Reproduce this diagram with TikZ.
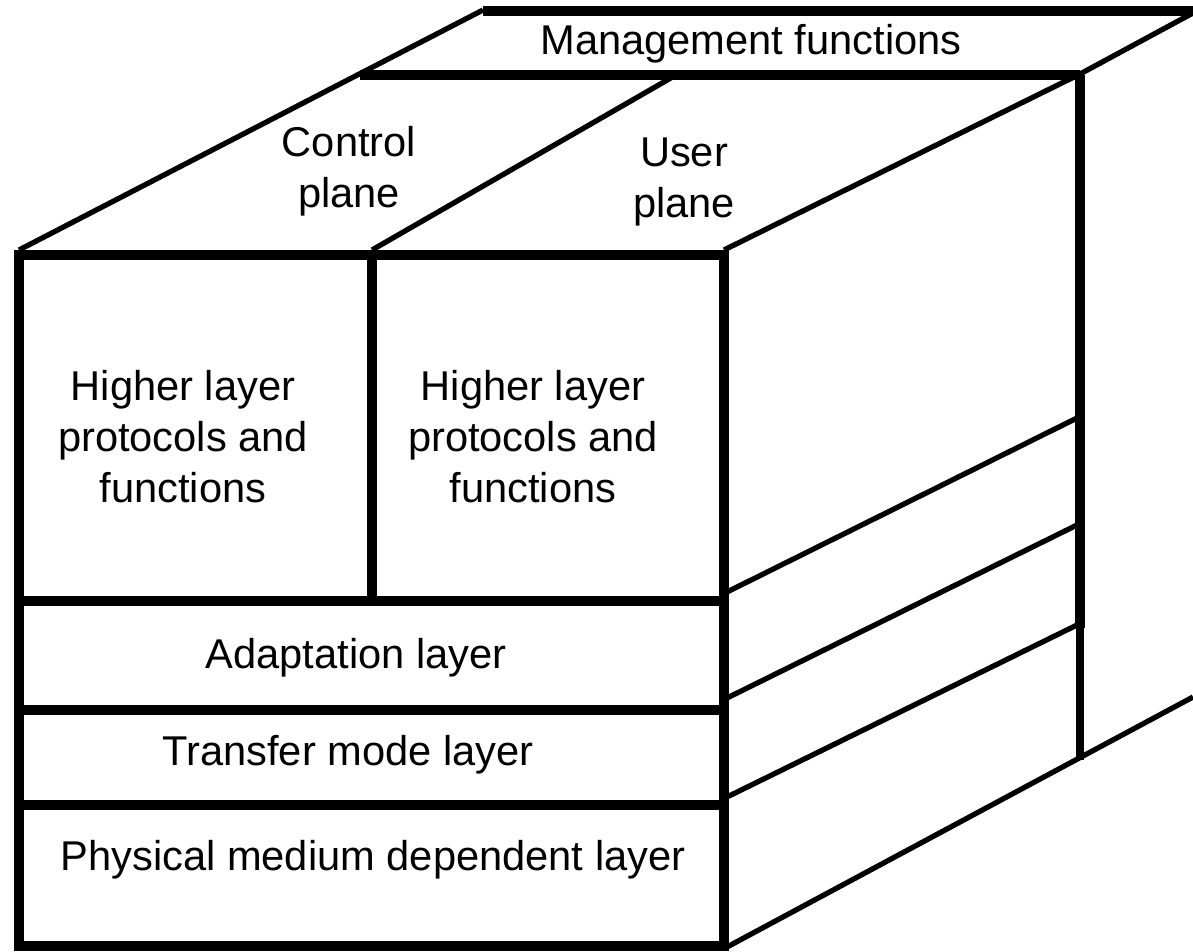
\documentclass[tikz,border=0pt]{standalone}
\usepackage{fontspec}
\setmainfont{Liberation Sans}
\usetikzlibrary{positioning}

\begin{document}
\begin{tikzpicture}[x=0.02cm, y=-0.02cm,
		frame/.style={line width=5.6pt},
		edgeline/.style={line width=3pt, line join=round},
		lbl/.style={font=\fontsize{23.7}{29}\selectfont, align=center, inner sep=0pt}]
	\useasboundingbox (0,0) rectangle (1193,952);

	% front face
	\coordinate (ftl) at (19,255);
	\coordinate (fbr) at (724,946);
	\draw[frame] (ftl) rectangle (fbr);
	\draw[frame] (19,601) -- (724,601);
	\draw[frame] (19,710) -- (724,710);
	\draw[frame] (19,805) -- (724,805);
	\draw[frame] (372,255) -- (372,601);

	% top face
	\draw[edgeline] (19,250) -- (483,10);
	\draw[edgeline] (372,250) -- (676,75);
	\draw[edgeline] (724,250) -- (1080,74) -- (1193,13);
	\draw[frame] (360,75) -- (1080,75);
	\draw[frame] (483,11) -- (1193,11);

	% right face
	\draw[frame] (1080,75) -- (1080,628);
	\draw[line width=4.2pt] (1080,628) -- (1080,760);
	\draw[edgeline] (727,592) -- (1077,418);
	\draw[edgeline] (727,698) -- (1077,525);
	\draw[edgeline] (727,797) -- (1077,625);
	\draw[edgeline] (727,947) -- (1193,697);

	% labels
	\node[lbl] (mgmt) at (751,44) {Management functions};
	\node[lbl] (cplane) at (349,171) {Control\\plane};
	\node[lbl] (uplane) at (684,182) {User\\plane};
	\node[lbl] (hlc) at (183,437) {Higher layer\\protocols and\\functions};
	\node[lbl] (hlu) at (533,437) {Higher layer\\protocols and\\functions};
	\node[lbl] (aal) at (356,658) {Adaptation layer};
	\node[lbl] (tml) at (348,755) {Transfer mode layer};
	\node[lbl] (pmd) at (373,860) {Physical medium dependent layer};
\end{tikzpicture}
\end{document}
